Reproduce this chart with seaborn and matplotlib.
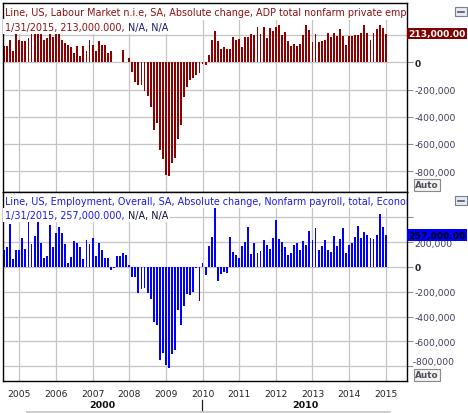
import numpy as np
import pandas as pd
import matplotlib
matplotlib.use("Agg")
import matplotlib.pyplot as plt
import matplotlib.transforms as mtransforms
from matplotlib.patches import Rectangle
from matplotlib.lines import Line2D
import seaborn as sns

# ---------------- data (thousands of jobs, monthly, Aug 2004 .. Jan 2015) ----------------
first_year, first_month = 2004, 8

adp_2004_2008 = [124, 119, 168, 83, 212, 168, 156, 156, 180, 209,
                 209, 209, 209, 168, 180, 209, 187, 209, 209, 168,
                 144, 127, 112, 71, 119, 46, 119, 83, 168, 131,
                 83, 156, 127, 127, 71, 83, 2, 2, 5, 92,
                 5, 31]
adp_2008_2010 = [-69, -141, -165, -165, -213, -249, -328, -494, -445, -644,
                 -709, -831, -838, -740, -702, -565, -457, -254, -184, -127,
                 -117, -91, -74, -12, -22]
adp_2010_2015 = [58, 162, 235, 160, 102, 111, 99, 99, 184, 162,
                 174, 111, 191, 191, 210, 200, 264, 208, 264, 180,
                 257, 232, 264, 276, 203, 227, 155, 119, 136, 119,
                 136, 203, 276, 240, 148, 208, 148, 160, 167, 215,
                 189, 215, 196, 247, 196, 126, 194, 196, 203, 203,
                 215, 276, 215, 167, 215, 247, 276, 257, 213]

nfp_2004_2008 = [135, 162, 345, 67, 135, 135, 237, 143, 372, 183,
                 248, 377, 197, 73, 86, 337, 162, 277, 318, 275,
                 183, 32, 81, 207, 189, 162, 67, 215, 183, 237,
                 89, 189, 135, 75, 75, -22, -8, 86, 86, 113,
                 100, 19]
nfp_2008_2010 = [-81, -81, -207, -180, -166, -207, -255, -443, -470, -752,
                 -690, -787, -814, -698, -671, -349, -465, -314, -215, -223,
                 -201, -5, -277, 35, -67, 167, 242, 485, -110, -59,
                 -40, -46]
nfp_2010_2015 = [242, 121, 100, 75, 167, 202, 318, 108, 189, 113,
                 129, 221, 180, 148, 234, 382, 229, 202, 160, 100,
                 110, 180, 189, 140, 210, 180, 291, 218, 315, 140,
                 170, 218, 140, 120, 250, 170, 229, 315, 110, 180,
                 196, 242, 331, 237, 283, 256, 237, 229, 256, 423,
                 323, 257]

year_ticks = list(range(2005, 2016))
top_yticks = [200000, 0, -200000, -400000, -600000, -800000]
top_ylabels = ["", "0", "-200,000", "-400,000", "-600,000", "-800,000"]
bot_yticks = [400000, 200000, 0, -200000, -400000, -600000, -800000]
bot_ylabels = ["", "200,000", "0", "-200,000", "-400,000", "-600,000", ""]

top_title = "Line, US, Labour Market n.i.e, SA, Absolute change, ADP total nonfarm private employment"
top_sub = "1/31/2015, 213,000.000, "
bot_title = "Line, US, Employment, Overall, SA, Absolute change, Nonfarm payroll, total, Economy"
bot_sub = "1/31/2015, 257,000.000, "
na_text = "N/A, N/A"
top_last_label = "213,000.00"
bot_last_label = "257,000.00"
decades = ["2000", "2010"]

adp = np.array(adp_2004_2008 + adp_2008_2010 + adp_2010_2015) * 1000
nfp = np.array(nfp_2004_2008 + nfp_2008_2010 + nfp_2010_2015) * 1000
months = first_year + (first_month - 1 + np.arange(len(adp))) / 12.0
df = pd.DataFrame({"t": np.round(months, 4), "adp": adp, "nfp": nfp})

# ---------------- layout ----------------
W, H = 468, 414
fig = plt.figure(figsize=(W / 100, H / 100), dpi=100)
fig.patch.set_facecolor("white")


def fx(px):
    return px / W


def fy(py):
    return 1 - py / H


L, R = 3, 407
ax1 = fig.add_axes([fx(L), fy(192.5), fx(R) - fx(L), fy(4) - fy(192.5)])
ax2 = fig.add_axes([fx(L), fy(382), fx(R) - fx(L), fy(192.5) - fy(382)])

GRID = "#c4c4c4"
LABEL_COL = "#3c3c5c"
FS = 6.6
TFS = 6.95

panels = [
    (ax1, "adp", "#8b0000", (-950000, 438000), top_yticks, top_ylabels),
    (ax2, "nfp", "#0000ff", (-919000, 608000), bot_yticks, bot_ylabels),
]
for ax, col, color, ylim, yt, yl in panels:
    sns.barplot(data=df, x="t", y=col, native_scale=True, orient="x",
                color=color, saturation=1, width=0.62, errorbar=None,
                linewidth=0, ax=ax)
    ax.set_xlim(2004.555, 2015.58)
    ax.set_ylim(*ylim)
    ax.set_xticks(year_ticks)
    ax.set_yticks(yt)
    ax.set_yticklabels(yl)
    ax.set_xlabel("")
    ax.set_ylabel("")
    ax.grid(True, color=GRID, linewidth=0.9)
    ax.set_axisbelow(True)
    ax.yaxis.tick_right()
    ax.tick_params(axis="y", length=4, width=0.8, color="#909090",
                   labelsize=FS, labelcolor=LABEL_COL, pad=1.5)
    ax.tick_params(axis="x", length=0, labelbottom=False)
    for sp in ax.spines.values():
        sp.set_color("black")
        sp.set_linewidth(1.0)
    for lab in ax.get_yticklabels():
        if lab.get_text() == "0":
            lab.set_fontweight("bold")
            lab.set_color("#202030")

# bottom panel year labels
ax2.tick_params(axis="x", labelbottom=True, labelsize=FS, labelcolor="#202020", pad=5.5)
ax2.set_xticklabels([str(y) for y in year_ticks])

# shifted -800,000 label on bottom panel
off = mtransforms.ScaledTranslation(0, 5 / 100, fig.dpi_scale_trans)
tr = mtransforms.blended_transform_factory(ax2.transAxes, ax2.transData) + off
ax2.text(1.0, -800000, "  -800,000", transform=tr, fontsize=FS, color=LABEL_COL,
         va="center", ha="left", clip_on=False)

# title strips
for ax, title, sub, tcol, ncol, top_px, bot_px in [
    (ax1, top_title, top_sub, "#8b1010", "#1a1a70", 4, 192.5),
    (ax2, bot_title, bot_sub, "#1a1ae6", "#101040", 192.5, 382),
]:
    h = bot_px - top_px
    strip = Rectangle((0, 1 - 16.5 / h), 1, 16.5 / h, transform=ax.transAxes,
                      facecolor="white", edgecolor="none", zorder=2)
    ax.add_patch(strip)
    t0 = ax.text(fx(5), fy(top_px + 9.5), title, transform=fig.transFigure,
                 fontsize=TFS, color=tcol, va="center", ha="left", zorder=3,
                 clip_on=True)
    t0.set_clip_path(ax.patch)
    t1 = ax.text(fx(5), fy(top_px + 23.5), sub, transform=fig.transFigure,
                 fontsize=TFS, color=tcol, va="center", ha="left", zorder=3,
                 bbox=dict(boxstyle="square,pad=0.25", fc="white", ec="none"))
    ax.annotate(na_text, xy=(1, 0), xycoords=t1, xytext=(0, 0),
                textcoords="offset points", fontsize=TFS, color=ncol,
                va="bottom", ha="left", zorder=3,
                bbox=dict(boxstyle="square,pad=0.25", fc="white", ec="none"))

# last-value labels on the right axis
for ax, val, txt, fc, tc in [
    (ax1, 213000, top_last_label, "#800000", "white"),
    (ax2, 257000, bot_last_label, "#0000ff", "black"),
]:
    btr = mtransforms.blended_transform_factory(fig.transFigure, ax.transData)
    fig.text(fx(408.5), val, txt, transform=btr, fontsize=6.6, fontweight="bold",
             color=tc, va="center", ha="left", zorder=5,
             bbox=dict(boxstyle="square,pad=0.15", fc=fc, ec="none"))

# small window icons and Auto buttons
for top_icon, auto_y in [(8, 186), (197, 376)]:
    fig.patches.append(Rectangle((fx(455), fy(top_icon + 9)), 12 / W, 9 / H,
                                 transform=fig.transFigure, facecolor="#e8eaf0",
                                 edgecolor="#7a7f8c", linewidth=0.8))
    fig.lines.append(Line2D([fx(458), fx(464)], [fy(top_icon + 4.5)] * 2,
                            transform=fig.transFigure, color="#50566a", linewidth=1.2))
    fig.text(fx(415), fy(auto_y), "Auto", fontsize=6.4, fontweight="bold",
             color="#505058", va="center", ha="left",
             bbox=dict(boxstyle="square,pad=0.15", fc="#f2f2f2", ec="#8a8a8a", lw=0.8))

# decade row
fig.text(fx(102), fy(405.5), decades[0], fontsize=6.8, fontweight="bold",
         color="#101010", ha="center", va="center")
fig.text(fx(305), fy(405.5), decades[1], fontsize=6.8, fontweight="bold",
         color="#101010", ha="center", va="center")
fig.lines.append(Line2D([fx(202.3), fx(202.3)], [fy(400.5), fy(412.5)],
                        transform=fig.transFigure, color="#202020", linewidth=0.9))
fig.lines.append(Line2D([fx(26.5), fx(390)], [fy(412.8), fy(412.8)],
                        transform=fig.transFigure, color="#c8c8c8", linewidth=1.3))

fig.savefig("out.png", dpi=100)
